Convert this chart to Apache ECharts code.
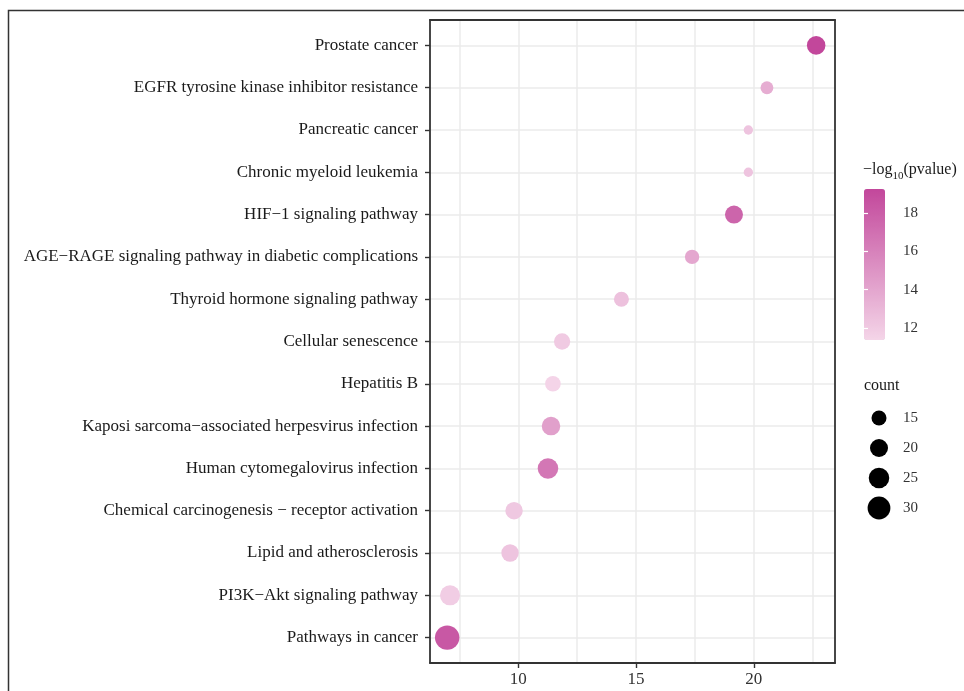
<!DOCTYPE html>
<html>
<head>
<meta charset="utf-8">
<script src="https://cdn.jsdelivr.net/npm/echarts@6/dist/echarts.min.js"></script>
<style>
html,body{margin:0;padding:0;background:#fff;}
#chart{width:964px;height:691px;}
</style>
</head>
<body>
<div id="chart"></div>
<script>
// ---- data (top to bottom as shown) ----
const categories = [
  'Prostate cancer',
  'EGFR tyrosine kinase inhibitor resistance',
  'Pancreatic cancer',
  'Chronic myeloid leukemia',
  'HIF\u22121 signaling pathway',
  'AGE\u2212RAGE signaling pathway in diabetic complications',
  'Thyroid hormone signaling pathway',
  'Cellular senescence',
  'Hepatitis B',
  'Kaposi sarcoma\u2212associated herpesvirus infection',
  'Human cytomegalovirus infection',
  'Chemical carcinogenesis \u2212 receptor activation',
  'Lipid and atherosclerosis',
  'PI3K\u2212Akt signaling pathway',
  'Pathways in cancer'
];
const xValues = [22.65, 20.56, 19.77, 19.77, 19.16, 17.38, 14.38, 11.86, 11.47, 11.39, 11.26, 9.82, 9.65, 7.10, 6.98];
const counts  = [21, 12, 8, 8, 20, 14, 15, 17, 16, 21, 25, 19, 19, 24, 34];
const logP    = [19.25, 13.6, 12.3, 12.3, 17.6, 13.9, 12.5, 12.0, 11.4, 14.3, 16.6, 12.1, 12.3, 11.8, 18.3];
const xTicks = [10, 15, 20];
const xGrid = [7.5, 10, 12.5, 15, 17.5, 20, 22.5];
const colorTicks = [12, 14, 16, 18];
const sizeBreaks = [15, 20, 25, 30];

const FONT = '"Liberation Serif","DejaVu Serif",serif';
const xMin = 6.25, xMax = 23.45;
const pMin = 11.37, pMax = 19.25;
const n = categories.length;

// area-proportional size scale
function sizeOf(c) { return Math.sqrt(Math.max(19.67 * c - 70, 4)); }

const pts = categories.map((c, i) => [xValues[i], n - 1 - i, counts[i], logP[i], c]);
const yIdx = categories.map((c, i) => i);

const chart = echarts.init(document.getElementById('chart'), null, {renderer: 'canvas'});
chart.setOption({
  backgroundColor: '#fff',
  animation: false,
  title: [
    {
      text: '{m|\u2212log}{s|10}{m|(pvalue)}',
      left: 863, top: 162, padding: 0,
      textStyle: {
        fontWeight: 'normal',
        rich: {
          m: {fontFamily: FONT, fontSize: 16, fontWeight: 'normal', color: '#1a1a1a', lineHeight: 20, verticalAlign: 'top'},
          s: {fontFamily: FONT, fontSize: 11, fontWeight: 'normal', color: '#1a1a1a', lineHeight: 10, verticalAlign: 'bottom'}
        }
      }
    },
    {
      text: 'count', left: 864, top: 378, padding: 0,
      textStyle: {fontFamily: FONT, fontSize: 16, fontWeight: 'normal', color: '#1a1a1a'}
    }
  ],
  grid: [
    {left: 430, right: 129, top: 20, bottom: 28, containLabel: false},
    {left: 864, width: 21, top: 189, height: 151},
    {left: 866, width: 26, top: 403, height: 120}
  ],
  xAxis: [
    {
      type: 'value', gridIndex: 0, min: xMin, max: xMax, position: 'bottom',
      axisLine: {show: true, onZero: false, lineStyle: {color: '#333', width: 1.8}},
      axisTick: {show: true, length: 5, customValues: xTicks, lineStyle: {color: '#333', width: 1.4}},
      axisLabel: {customValues: xTicks, margin: 8, fontFamily: FONT, fontSize: 17, color: '#333'},
      splitLine: {show: false}
    },
    {
      type: 'value', gridIndex: 0, min: xMin, max: xMax, position: 'top',
      axisLine: {show: true, onZero: false, lineStyle: {color: '#333', width: 1.8}},
      axisTick: {show: false, customValues: xGrid},
      axisLabel: {show: false},
      splitLine: {show: true, lineStyle: {color: '#EBEBEB', width: 1.5}}
    },
    {type: 'value', gridIndex: 1, min: 0, max: 1, show: false},
    {type: 'value', gridIndex: 2, min: 0, max: 1, show: false}
  ],
  yAxis: [
    {
      type: 'value', gridIndex: 0, min: -0.6, max: n - 0.4, position: 'left',
      axisLine: {show: true, onZero: false, lineStyle: {color: '#333', width: 1.8}},
      axisTick: {show: true, length: 5, customValues: yIdx, lineStyle: {color: '#333', width: 1.4}},
      axisLabel: {
        customValues: yIdx, margin: 12, fontFamily: FONT, fontSize: 17, color: '#1a1a1a',
        formatter: v => categories[n - 1 - Math.round(v)]
      },
      splitLine: {show: true, lineStyle: {color: '#EBEBEB', width: 1.5}}
    },
    {
      type: 'value', gridIndex: 0, min: -0.6, max: n - 0.4, position: 'right',
      axisLine: {show: true, onZero: false, lineStyle: {color: '#333', width: 1.8}},
      axisTick: {show: false}, axisLabel: {show: false}, splitLine: {show: false}
    },
    {
      type: 'value', gridIndex: 1, min: pMin, max: pMax, position: 'right', z: 10,
      axisLine: {show: false},
      axisTick: {show: true, inside: true, length: 4, customValues: colorTicks, lineStyle: {color: '#fff', width: 1.2}},
      axisLabel: {customValues: colorTicks, margin: 18, fontFamily: FONT, fontSize: 15, color: '#333'},
      splitLine: {show: false}
    },
    {
      type: 'value', gridIndex: 1, min: pMin, max: pMax, position: 'left', z: 10,
      axisLine: {show: false},
      axisTick: {show: true, inside: true, length: 4, customValues: colorTicks, lineStyle: {color: '#fff', width: 1.2}},
      axisLabel: {show: false},
      splitLine: {show: false}
    },
    {
      type: 'category', gridIndex: 2, position: 'right', inverse: true,
      data: sizeBreaks.map(String),
      axisLine: {show: false}, axisTick: {show: false},
      axisLabel: {margin: 11, fontFamily: FONT, fontSize: 15, color: '#333'},
      splitLine: {show: false}
    }
  ],
  visualMap: [{
    type: 'continuous', seriesIndex: 0, dimension: 3,
    min: pMin, max: pMax, calculable: false, realtime: false,
    left: 864, top: 189, padding: 0,
    itemWidth: 21, itemHeight: 151, text: null, showLabel: false,
    inRange: {color: ['#F4D5E8', '#C2479B'], opacity: 1},
    hoverLink: false
  }],
  series: [
    {
      type: 'scatter', xAxisIndex: 0, yAxisIndex: 0,
      data: pts,
      symbolSize: v => sizeOf(v[2]),
      itemStyle: {opacity: 1},
      z: 5
    },
    {
      type: 'scatter', xAxisIndex: 3, yAxisIndex: 4,
      data: sizeBreaks.map((c, i) => [0.5, i, c]),
      symbolSize: v => sizeOf(v[2]),
      itemStyle: {color: '#000', opacity: 1},
      silent: true
    }
  ],
  graphic: [{
    type: 'polyline', silent: true,
    shape: {points: [[8.5, 691], [8.5, 10.5], [964, 10.5]]},
    style: {stroke: '#333', lineWidth: 1.5, fill: null}
  }]
});
</script>
</body>
</html>
